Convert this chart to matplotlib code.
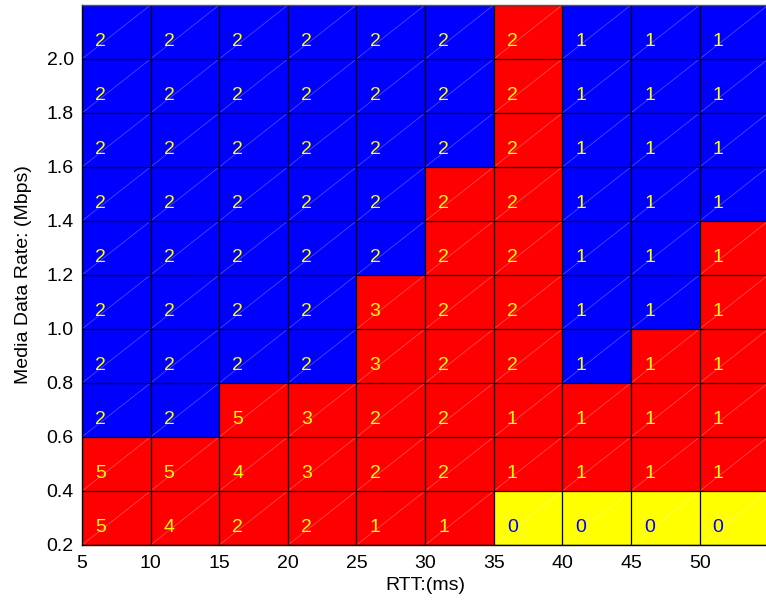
import numpy as np
import matplotlib
matplotlib.use("Agg")
import matplotlib.pyplot as plt
from matplotlib.colors import ListedColormap

rtt = [5, 10, 15, 20, 25, 30, 35, 40, 45, 50]
rate = [0.2, 0.4, 0.6, 0.8, 1.0, 1.2, 1.4, 1.6, 1.8, 2.0]

# numbers shown in each cell, rows from rate 0.2 (bottom) up to 2.0 (top)
counts = [
    [5, 4, 2, 2, 1, 1, 0, 0, 0, 0],
    [5, 5, 4, 3, 2, 2, 1, 1, 1, 1],
    [2, 2, 5, 3, 2, 2, 1, 1, 1, 1],
    [2, 2, 2, 2, 3, 2, 2, 1, 1, 1],
    [2, 2, 2, 2, 3, 2, 2, 1, 1, 1],
    [2, 2, 2, 2, 2, 2, 2, 1, 1, 1],
    [2, 2, 2, 2, 2, 2, 2, 1, 1, 1],
    [2, 2, 2, 2, 2, 2, 2, 1, 1, 1],
    [2, 2, 2, 2, 2, 2, 2, 1, 1, 1],
    [2, 2, 2, 2, 2, 2, 2, 1, 1, 1],
]

# cell class: 0 = yellow, 1 = red, 2 = blue
region = [
    [1, 1, 1, 1, 1, 1, 0, 0, 0, 0],
    [1, 1, 1, 1, 1, 1, 1, 1, 1, 1],
    [2, 2, 1, 1, 1, 1, 1, 1, 1, 1],
    [2, 2, 2, 2, 1, 1, 1, 2, 1, 1],
    [2, 2, 2, 2, 1, 1, 1, 2, 2, 1],
    [2, 2, 2, 2, 2, 1, 1, 2, 2, 1],
    [2, 2, 2, 2, 2, 1, 1, 2, 2, 2],
    [2, 2, 2, 2, 2, 2, 1, 2, 2, 2],
    [2, 2, 2, 2, 2, 2, 1, 2, 2, 2],
    [2, 2, 2, 2, 2, 2, 1, 2, 2, 2],
]

dx = 5
dy = 0.2
xe = np.append(rtt, rtt[-1] + dx)
ye = np.append(rate, rate[-1] + dy)

plt.rcParams['font.family'] = ['Liberation Sans', 'DejaVu Sans']

fig = plt.figure(figsize=(7.66, 6.05), dpi=100)
ax = fig.add_axes([0.107, 0.0992, 0.896, 0.8926])

cmap = ListedColormap(['#ffff00', '#ff0000', '#0000ff'])
ax.pcolormesh(xe, ye, np.array(region), cmap=cmap, vmin=-0.5, vmax=2.5)

# faint surface triangulation diagonals
for i in range(len(rate)):
    for j in range(len(rtt)):
        ax.plot([xe[j], xe[j + 1]], [ye[i], ye[i + 1]], color='white',
                lw=0.5, alpha=0.35)

# cell edges
for xv in xe:
    ax.axvline(xv, color='black', lw=0.9, snap=True)
for yv in ye:
    ax.axhline(yv, color='black', lw=0.9, snap=True)

for i in range(len(rate)):
    for j in range(len(rtt)):
        c = '#0000ff' if region[i][j] == 0 else '#ffff00'
        ax.text(rtt[j] + 0.95, rate[i] + 0.065, str(counts[i][j]), color=c,
                fontsize=14, ha='left', va='center')

ax.set_xlim(xe[0], xe[-1])
ax.set_ylim(ye[0], ye[-1])
ax.set_xticks(rtt)
ax.set_yticks(rate)
ax.set_yticklabels(['%.1f' % v for v in rate])
ax.tick_params(length=0, labelsize=14)
ax.tick_params(axis='x', pad=7)
ax.tick_params(axis='y', pad=6)
ax.set_xlabel('RTT:(ms)', fontsize=14, labelpad=4)
ax.set_ylabel('Media Data Rate: (Mbps)', fontsize=14, labelpad=10)
for s in ax.spines.values():
    s.set_linewidth(1.0)
ax.spines['top'].set_color('#555555')

fig.savefig('out.png', dpi=100)
